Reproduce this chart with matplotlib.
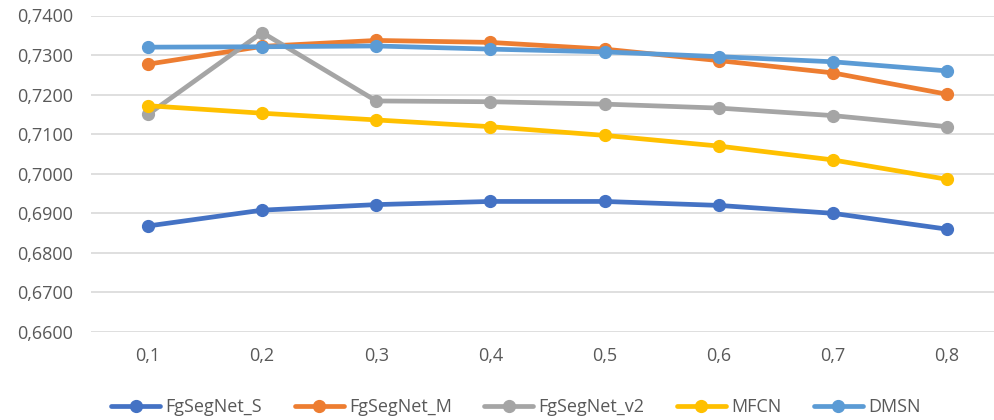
import matplotlib
matplotlib.use("Agg")
import matplotlib.pyplot as plt
from matplotlib.ticker import FuncFormatter, MultipleLocator

# Threshold values shown on the category axis
thresholds = ["0,1", "0,2", "0,3", "0,4", "0,5", "0,6", "0,7", "0,8"]

# Scores per method
fgsegnet_s = [0.6868, 0.6908, 0.6922, 0.6930, 0.6930, 0.6920, 0.6900, 0.6860]
fgsegnet_m = [0.7277, 0.7322, 0.7337, 0.7332, 0.7315, 0.7286, 0.7255, 0.7201]
fgsegnet_v2 = [0.7150, 0.7357, 0.7184, 0.7182, 0.7176, 0.7166, 0.7147, 0.7119]
mfcn = [0.7172, 0.7153, 0.7136, 0.7119, 0.7097, 0.7070, 0.7035, 0.6986]
dmsn = [0.7320, 0.7321, 0.7323, 0.7315, 0.7308, 0.7296, 0.7283, 0.7260]

series = [
    ("FgSegNet_S", fgsegnet_s, "#4472C4"),
    ("FgSegNet_M", fgsegnet_m, "#ED7D31"),
    ("FgSegNet_v2", fgsegnet_v2, "#A5A5A5"),
    ("MFCN", mfcn, "#FFC000"),
    ("DMSN", dmsn, "#5B9BD5"),
]

plt.rcParams["font.family"] = ["Open Sans", "DejaVu Sans"]
FS = 13

fig = plt.figure(figsize=(9.95, 4.2), dpi=100)
ax = fig.add_axes([91 / 995, 88 / 420, 913 / 995, 316.5 / 420])

x = list(range(len(thresholds)))
for name, vals, color in series:
    ax.plot(x, vals, color=color, lw=3.4, marker="o", ms=8.5,
            solid_capstyle="round", label=name, clip_on=False)

ax.set_xlim(-0.5, len(thresholds) - 0.5)
ax.set_ylim(0.66, 0.74)
ax.yaxis.set_major_locator(MultipleLocator(0.01))
ax.yaxis.set_major_formatter(FuncFormatter(lambda v, p: f"{v:.4f}".replace(".", ",")))
ax.set_xticks(x)
ax.set_xticklabels(thresholds)

ax.grid(axis="y", color="#D9D9D9", lw=1.2)
ax.set_axisbelow(True)
for s in ax.spines.values():
    s.set_visible(False)
ax.tick_params(axis="both", length=0, colors="#595959", labelsize=FS)
ax.tick_params(axis="x", pad=11)
ax.tick_params(axis="y", pad=13)

leg = fig.legend(loc="center", bbox_to_anchor=(516 / 995, 1 - 407 / 420), ncol=5,
                 frameon=False, fontsize=FS, handlelength=2.7, handletextpad=0.3,
                 columnspacing=1.8)
for t in leg.get_texts():
    t.set_color("#595959")

fig.savefig("out.png", dpi=100)
